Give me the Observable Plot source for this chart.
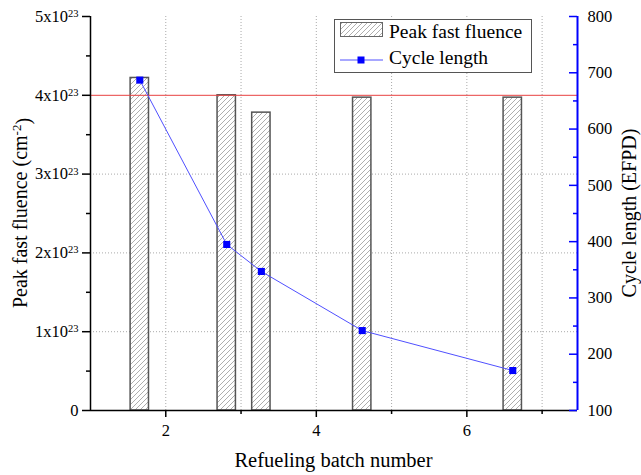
<!DOCTYPE html>
<html><head><meta charset="utf-8">
<script src="https://cdn.jsdelivr.net/npm/d3@7"></script>
<script src="https://cdn.jsdelivr.net/npm/@observablehq/plot@0.6"></script>
<style>
body{margin:0;background:#fff} svg{display:block}
#chart svg text, #chart svg tspan {font-family: 'Liberation Serif', 'Times New Roman', serif !important;}
#chart svg g[aria-label$="tick label"] text {font-size: 16.5px;}
</style>
</head><body><div id="chart"></div>
<script>
// Data (fluence in units of 10^23 cm^-2, cycle length in EFPD)
const batchNumber = [1.655, 2.81, 3.27, 4.61, 6.61];
const peakFluence = [4.22, 4.00, 3.78, 3.97, 3.97];
const cycleLength = [687, 395, 347, 242, 171];
const fluenceLimit = 4.0;
const leftTicks = [0, 1, 2, 3, 4, 5];
const leftMinor = [0.5, 1.5, 2.5, 3.5, 4.5];
const rightTicks = [100, 200, 300, 400, 500, 600, 700, 800];
const rightMinor = [150, 250, 350, 450, 550, 650, 750];
const xTicks = [2, 4, 6];
const xMinor = [3, 5, 7];
const xGrid = [2, 3, 4, 5, 6, 7];
const yGrid = [1, 2, 3];

const W = 641, H = 475, mL = 90, mR = 64, mT = 16, mB = 65;
const xDomain = [1, 7.47], yDomain = [0, 5], rDomain = [100, 800];
const toLeft = v => (v - rDomain[0]) / (rDomain[1] - rDomain[0]) * yDomain[1];
const fromLeft = v => Math.round(rDomain[0] + v / yDomain[1] * (rDomain[1] - rDomain[0]));
const barHalf = 0.122;
const plotW = W - mL - mR;
const rows = batchNumber.map((x, i) => ({x, f: peakFluence[i], c: cycleLength[i]}));
const BLUE = "#0000ff";
const FONT = "'Liberation Serif', 'Times New Roman', serif";

const plot = Plot.plot({
  width: W, height: H, marginLeft: mL, marginRight: mR, marginTop: mT, marginBottom: mB,
  style: {fontFamily: FONT, fontSize: "16.5px", color: "#000", background: "#fff"},
  x: {domain: xDomain}, y: {domain: yDomain},
  marks: [
    Plot.gridX(xGrid, {stroke: "#aaa", strokeOpacity: 1, strokeDasharray: "1,2", strokeWidth: 1}),
    Plot.gridY(yGrid, {stroke: "#aaa", strokeOpacity: 1, strokeDasharray: "1,2", strokeWidth: 1}),
    Plot.rectY(rows, {x1: d => d.x - barHalf, x2: d => d.x + barHalf, y1: 0, y2: "f",
      fill: "url(#hatch)", stroke: "#555", strokeWidth: 1.5}),
    Plot.ruleY([fluenceLimit], {stroke: "#e84040", strokeWidth: 1}),
    Plot.line(rows, {x: "x", y: d => toLeft(d.c), stroke: "#5050ff", strokeWidth: 1}),
    Plot.dot(rows, {x: "x", y: d => toLeft(d.c), symbol: "square", r: 4, fill: BLUE, stroke: null}),
    Plot.ruleY([yDomain[0]], {stroke: "#000", strokeWidth: 1.5}),
    Plot.axisY(leftTicks, {anchor: "left", tickSize: 8, tickPadding: 4, strokeWidth: 1.5,
      tickFormat: d => d === 0 ? "0" : `${d}x10`, label: null}),
    Plot.axisY(leftMinor, {anchor: "left", tickSize: 4, strokeWidth: 1.5, tickFormat: () => "", label: null}),
    Plot.axisX(xTicks, {anchor: "bottom", tickSize: 7, tickPadding: 7, strokeWidth: 1.5, label: null}),
    Plot.axisX(xMinor, {anchor: "bottom", tickSize: 4, strokeWidth: 1.5, tickFormat: () => "", label: null}),
    Plot.tickY(rightTicks, {y: toLeft, insetLeft: plotW - 8, stroke: BLUE, strokeWidth: 1.5}),
    Plot.tickY(rightMinor, {y: toLeft, insetLeft: plotW - 4, stroke: BLUE, strokeWidth: 1.5}),
    Plot.axisY(rightTicks.map(toLeft), {anchor: "right", tickSize: 0, tickPadding: 10,
      tickFormat: fromLeft, label: null}),
    Plot.ruleX([xDomain[0]], {stroke: "#000", strokeWidth: 1.5}),
    Plot.ruleX([xDomain[1]], {stroke: BLUE, strokeWidth: 2})
  ]
});

document.getElementById("chart").appendChild(plot);
const svg = d3.select(plot);

// hatch pattern
const defs = svg.insert("defs", ":first-child");
const pat = defs.append("pattern").attr("id", "hatch").attr("patternUnits", "userSpaceOnUse")
  .attr("width", 5).attr("height", 5);
pat.append("rect").attr("width", 5).attr("height", 5).attr("fill", "#fff");
pat.append("path").attr("d", "M-1,1 L1,-1 M0,5 L5,0 M4,6 L6,4")
  .attr("stroke", "#999").attr("stroke-width", 0.8);

// superscripts on left tick labels
svg.selectAll("text").each(function() {
  const t = d3.select(this);
  const s = t.text();
  if (/x10$/.test(s)) {
    t.append("tspan").attr("dy", "-0.45em").attr("font-size", "10.5px").text("23");
  }
});

// axis titles
const lt = svg.append("text").attr("transform", `translate(27,${(mT + H - mB) / 2}) rotate(-90)`)
  .attr("text-anchor", "middle").attr("font-family", FONT).attr("font-size", "20px").attr("fill", "#000");
lt.append("tspan").text("Peak fast fluence (cm");
lt.append("tspan").attr("dy", "-0.45em").attr("font-size", "13px").text("-2");
lt.append("tspan").attr("dy", "0.45em").text(")");

svg.append("text").attr("transform", `translate(636,${(mT + H - mB) / 2}) rotate(-90)`)
  .attr("text-anchor", "middle").attr("font-family", FONT).attr("font-size", "20px").attr("fill", "#000")
  .text("Cycle length (EFPD)");

svg.append("text").attr("x", (mL + W - mR) / 2).attr("y", 467)
  .attr("text-anchor", "middle").attr("font-family", FONT).attr("font-size", "20.5px").attr("fill", "#000")
  .text("Refueling batch number");

// legend
const lg = svg.append("g").attr("font-family", FONT).attr("font-size", "19.5px").attr("text-anchor", "start");
lg.append("rect").attr("x", 334.5).attr("y", 19.5).attr("width", 197).attr("height", 53)
  .attr("fill", "#fff").attr("stroke", "#555").attr("stroke-width", 1);
lg.append("rect").attr("x", 340.5).attr("y", 22.5).attr("width", 42).attr("height", 14)
  .attr("fill", "url(#hatch)").attr("stroke", "#666").attr("stroke-width", 1);
lg.append("text").attr("x", 389).attr("y", 38).attr("text-anchor", "start").text("Peak fast fluence");
lg.append("line").attr("x1", 340).attr("x2", 383).attr("y1", 60).attr("y2", 60)
  .attr("stroke", "#5050ff").attr("stroke-width", 1);
lg.append("rect").attr("x", 357.5).attr("y", 56.5).attr("width", 7).attr("height", 7).attr("fill", BLUE);
lg.append("text").attr("x", 389).attr("y", 64).attr("text-anchor", "start").text("Cycle length");
</script>
</body></html>
